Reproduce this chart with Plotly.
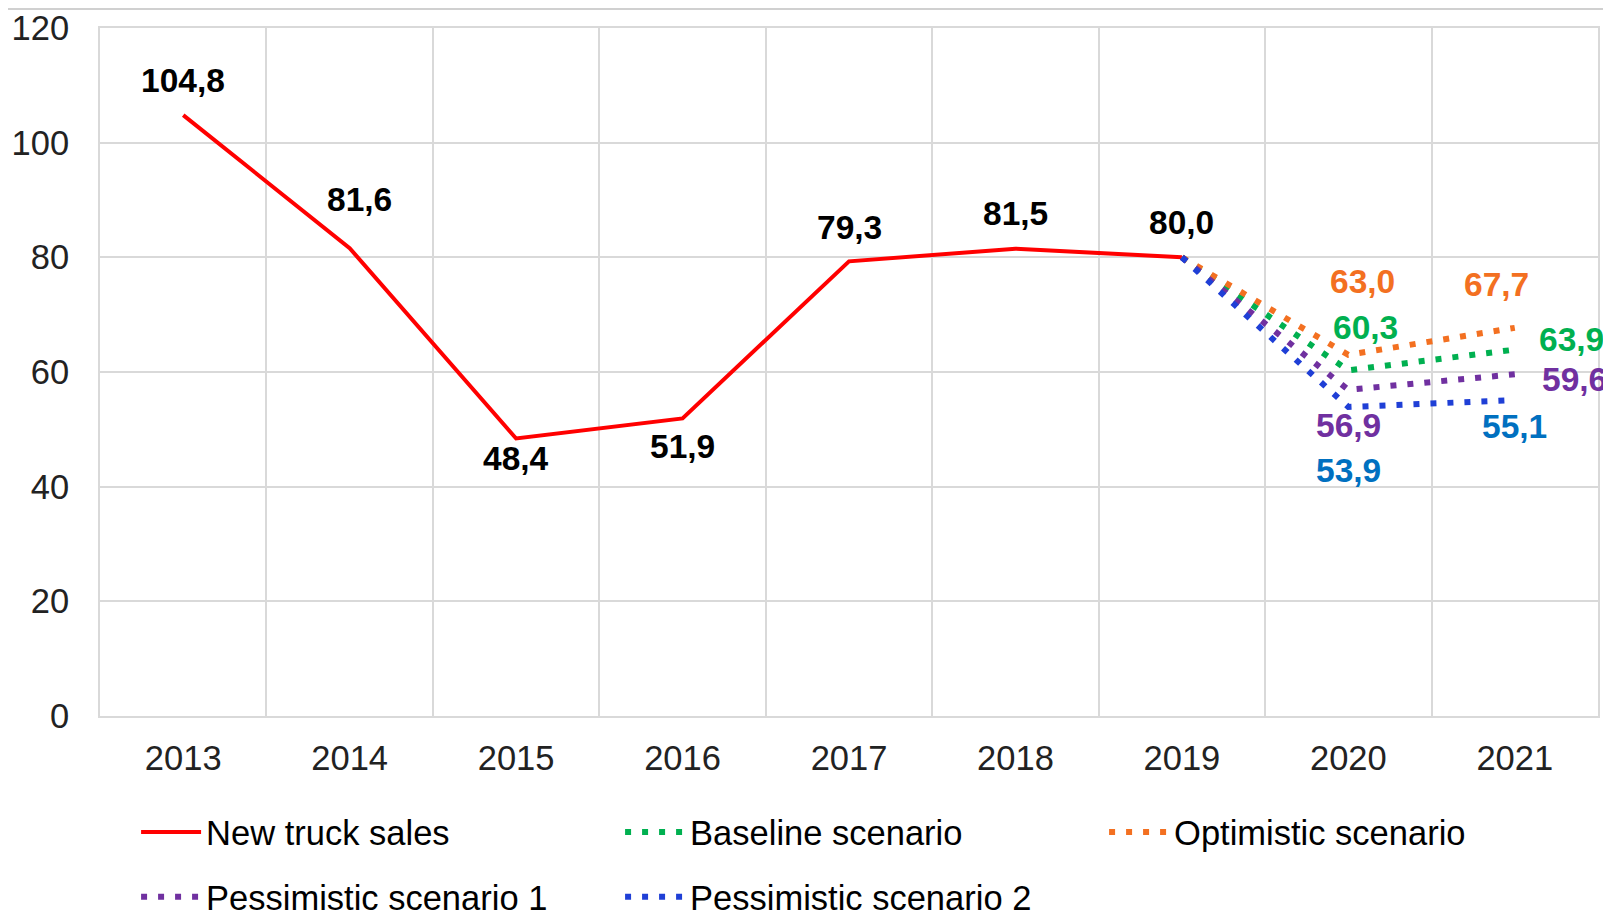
import plotly.graph_objects as go

YEARS = ["2013", "2014", "2015", "2016", "2017", "2018", "2019", "2020", "2021"]

SALES_YEARS = YEARS[:7]
SALES = [104.8, 81.6, 48.4, 51.9, 79.3, 81.5, 80.0]

SCENARIO_YEARS = ["2019", "2020", "2021"]
BASELINE = [80.0, 60.3, 63.9]
OPTIMISTIC = [80.0, 63.0, 67.7]
PESSIMISTIC_1 = [80.0, 56.9, 59.6]
PESSIMISTIC_2 = [80.0, 53.9, 55.1]

FONT = "Liberation Sans, Arial, sans-serif"
GRID_COLOR = "#d9d9d9"

RED = "#ff0000"
GREEN = "#00b050"
ORANGE = "#f37021"
PURPLE = "#7030a0"
BLUE = "#1f3fd6"
BLUE_TEXT = "#0070c0"

DOT = "6px,11px"
LABEL_SIZE = 33.5

# the page body adds an 8px margin, so the figure is 8px smaller than the window
WIDTH, HEIGHT = 1603, 914


def fmt(value):
    return "<b>" + f"{value:.1f}".replace(".", ",") + "</b>"


fig = go.Figure()

fig.add_trace(go.Scatter(x=SALES_YEARS, y=SALES, mode="lines", name="New truck sales",
                         line=dict(color=RED, width=4), legend="legend"))

scenarios = [
    ("Baseline scenario", BASELINE, GREEN, "legend"),
    ("Optimistic scenario", OPTIMISTIC, ORANGE, "legend"),
    ("Pessimistic scenario 1", PESSIMISTIC_1, PURPLE, "legend2"),
    ("Pessimistic scenario 2", PESSIMISTIC_2, BLUE, "legend2"),
]
for name, values, color, legend in scenarios:
    fig.add_trace(go.Scatter(x=SCENARIO_YEARS, y=values, mode="lines", name=name,
                             line=dict(color=color, width=6, dash=DOT), legend=legend))

# value labels, shifted in pixels from their points
sales_shifts = [(0, 35), (10, 49), (0, -20), (0, -28), (0, 34), (0, 35), (0, 35)]
for year, value, (dx, dy) in zip(SALES_YEARS, SALES, sales_shifts):
    fig.add_annotation(x=YEARS.index(year), y=value, text=fmt(value), showarrow=False,
                       xshift=dx, yshift=dy, font=dict(family=FONT, size=LABEL_SIZE, color="black"))

scenario_labels = [
    (OPTIMISTIC, ORANGE, [(14, 73), (-18, 43)]),
    (BASELINE, GREEN, [(17, 43), (57, 10)]),
    (PESSIMISTIC_1, PURPLE, [(0, -36), (60, -5)]),
    (PESSIMISTIC_2, BLUE_TEXT, [(0, -64), (0, -26)]),
]
for values, color, shifts in scenario_labels:
    for year, value, (dx, dy) in zip(SCENARIO_YEARS[1:], values[1:], shifts):
        fig.add_annotation(x=YEARS.index(year), y=value, text=fmt(value), showarrow=False,
                           xshift=dx, yshift=dy, font=dict(family=FONT, size=LABEL_SIZE, color=color))

# thin frame line across the top of the picture
fig.add_shape(type="line", xref="paper", yref="paper", x0=-0.0614, x1=1.01, y0=1.0275, y1=1.0275,
              line=dict(color="#d0d0d0", width=2))

legend_common = dict(orientation="h", xref="container", yref="container", xanchor="left",
                     yanchor="middle", entrywidth=409, entrywidthmode="pixels", itemwidth=60,
                     bgcolor="rgba(0,0,0,0)", font=dict(family=FONT, size=34.5, color="black"),
                     traceorder="normal")

fig.update_layout(
    width=WIDTH, height=HEIGHT,
    margin=dict(l=92, r=13, t=20, b=206, autoexpand=False),
    paper_bgcolor="white", plot_bgcolor="white",
    font=dict(family=FONT, color="#222222"),
    legend=dict(x=0.0799, y=0.0985, **legend_common),
    legend2=dict(x=0.0799, y=0.0275, **legend_common),
    xaxis=dict(
        type="category", categoryorder="array", categoryarray=YEARS, range=[-0.5, 8.5],
        tickson="boundaries", showgrid=True, gridcolor=GRID_COLOR, gridwidth=2,
        showline=True, mirror=True, linecolor=GRID_COLOR, linewidth=2,
        ticks="", ticklabelstandoff=11, tickfont=dict(family=FONT, size=34.5, color="#222222"),
    ),
    yaxis=dict(
        range=[0, 120], tickvals=[0, 20, 40, 60, 80, 100, 120], showgrid=True,
        gridcolor=GRID_COLOR, gridwidth=2, zeroline=False,
        showline=True, mirror=True, linecolor=GRID_COLOR, linewidth=2,
        ticks="", ticklabelstandoff=22, tickfont=dict(family=FONT, size=34.5, color="#222222"),
    ),
)

fig.write_html("out.html")
